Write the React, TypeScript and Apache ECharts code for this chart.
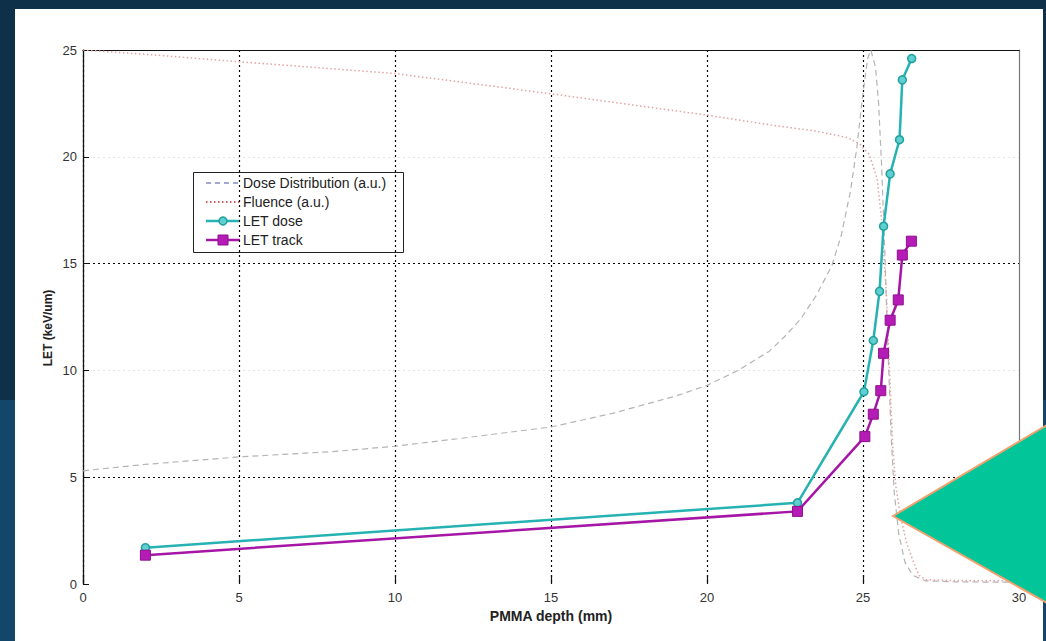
import React, { useEffect, useRef } from "react";
import * as echarts from "echarts";

// Depth axis (mm) and LET axis (keV/um) ranges
const depthTicks = [0, 5, 10, 15, 20, 25, 30];
const letTicks = [0, 5, 10, 15, 20, 25];

// Relative dose distribution, scaled onto the LET axis (a.u.)
const doseDistribution: [number, number][] = [
  [0, 5.3], [2, 5.6], [5, 5.95], [8, 6.2], [10, 6.45], [12, 6.8], [15, 7.35],
  [17, 8.0], [19, 8.8], [20, 9.3], [21, 10.0], [22, 10.9], [22.5, 11.6],
  [23, 12.4], [23.5, 13.5], [24, 14.9], [24.3, 16.3], [24.6, 18.4],
  [24.8, 20.4], [25.0, 23.0], [25.15, 24.6], [25.25, 25.0], [25.4, 24.2],
  [25.5, 22.5], [25.6, 19.5], [25.7, 15.5], [25.8, 11.0], [25.9, 7.0],
  [26.0, 4.3], [26.15, 2.3], [26.35, 1.0], [26.6, 0.4], [27.0, 0.15],
  [28.0, 0.1], [30.0, 0.08],
];

// Relative fluence, scaled onto the LET axis (a.u.)
const fluence: [number, number][] = [
  [0, 25.0], [2, 24.8], [5, 24.45], [10, 23.9], [15, 22.95], [20, 21.95],
  [22, 21.5], [23.5, 21.2], [24.5, 20.9], [24.9, 20.6], [25.2, 20.1],
  [25.45, 19.0], [25.6, 17.0], [25.75, 13.5], [25.85, 10.0], [25.95, 6.5],
  [26.05, 4.6], [26.2, 3.2], [26.4, 1.9], [26.6, 1.1], [26.8, 0.4],
  [27.0, 0.2], [28.0, 0.16], [30.0, 0.15],
];

// Dose-averaged LET
const letDose: [number, number][] = [
  [2, 1.7], [22.9, 3.8], [25.03, 9.0], [25.33, 11.4], [25.53, 13.7],
  [25.66, 16.75], [25.87, 19.2], [26.17, 20.8], [26.26, 23.6], [26.56, 24.6],
];

// Track-averaged LET
const letTrack: [number, number][] = [
  [2, 1.35], [22.9, 3.4], [25.06, 6.9], [25.33, 7.95], [25.57, 9.05],
  [25.66, 10.8], [25.87, 12.35], [26.13, 13.3], [26.26, 15.4], [26.55, 16.05],
];

const seriesNames = ["Dose Distribution (a.u.)", "Fluence (a.u.)", "LET dose", "LET track"];

const FONT = '"Liberation Sans", Arial, sans-serif';

const CYAN = "#26b2b2";
const MAGENTA = "#a616a6";

// Boxed legend in the upper left of the plot, one row per series
function buildLegend() {
  const left = 193;
  const top = 172;
  const rowH = 19;
  const firstRow = 183;
  const x0 = 206;
  const x1 = 240;
  const mid = (x0 + x1) / 2;
  const children: any[] = [
    {
      type: "rect",
      shape: { x: left + 0.5, y: top + 0.5, width: 210, height: 80 },
      style: { fill: "#fff", stroke: "#222", lineWidth: 1 },
    },
  ];
  seriesNames.forEach((name, i) => {
    const y = firstRow + i * rowH;
    if (i === 0) {
      children.push({
        type: "line",
        shape: { x1: x0, y1: y, x2: x1, y2: y },
        style: { stroke: "#4452a6", lineWidth: 1.2, lineDash: [5, 4] },
      });
    } else if (i === 1) {
      children.push({
        type: "line",
        shape: { x1: x0, y1: y, x2: x1, y2: y },
        style: { stroke: "#c42a2a", lineWidth: 1.5, lineDash: [1.5, 2.5] },
      });
    } else if (i === 2) {
      children.push({
        type: "line",
        shape: { x1: x0, y1: y, x2: x1, y2: y },
        style: { stroke: CYAN, lineWidth: 2.5 },
      });
      children.push({
        type: "circle",
        shape: { cx: mid, cy: y, r: 4 },
        style: { fill: "#5fcfcf", stroke: "#1f9f9f", lineWidth: 1.5 },
      });
    } else {
      children.push({
        type: "line",
        shape: { x1: x0, y1: y, x2: x1, y2: y },
        style: { stroke: MAGENTA, lineWidth: 2.5 },
      });
      children.push({
        type: "rect",
        shape: { x: mid - 5, y: y - 5, width: 10, height: 10 },
        style: { fill: "#b51cb5", stroke: "#8f0f8f", lineWidth: 1 },
      });
    }
    children.push({
      type: "text",
      x: 243,
      y,
      style: { text: name, font: `14px ${FONT}`, fill: "#222", verticalAlign: "middle", align: "left" },
    });
  });
  return { type: "group", z: 50, children };
}

export default function App() {
  const ref = useRef<HTMLDivElement>(null);

  useEffect(() => {
    if (!ref.current) return;
    const chart = echarts.init(ref.current, null, { renderer: "svg" });
    const dotted = [2, 3];

    chart.setOption({
      animation: false,
      backgroundColor: "#0e3048",
      graphic: [
        { type: "rect", z: -20, shape: { x: 0, y: 400, width: 1046, height: 241 }, style: { fill: "#124769" } },
        { type: "rect", z: -10, shape: { x: 15, y: 9, width: 1028, height: 632 }, style: { fill: "#ffffff" } },
        {
          type: "text", z: 10, x: 48, y: 328, rotation: Math.PI / 2,
          style: { text: "LET (keV/um)", font: `bold 12px ${FONT}`, align: "center", verticalAlign: "middle", fill: "#222" },
        },
        buildLegend(),
        {
          type: "polygon", z: 100,
          shape: { points: [[893, 516], [1047, 425], [1047, 603]] },
          style: { fill: "#02c59a", stroke: "#f2a16c", lineWidth: 2 },
        },
      ],
      grid: { left: 83, top: 50, right: 27, bottom: 57 },
      xAxis: [
        {
          type: "value",
          min: depthTicks[0],
          max: depthTicks[depthTicks.length - 1],
          interval: 5,
          name: "PMMA depth (mm)",
          nameLocation: "middle",
          nameGap: 17,
          nameTextStyle: { fontFamily: FONT, fontWeight: "bold", fontSize: 14, color: "#222" },
          axisLine: { show: false },
          axisTick: { show: true, inside: true, length: 9, lineStyle: { color: "#111", width: 1.2 } },
          axisLabel: { fontFamily: FONT, fontSize: 13, color: "#333", margin: 7 },
          splitLine: {
            show: true,
            lineStyle: {
              color: ["#000", "#000", "#000", "#000", "#000", "#000", "rgba(0,0,0,0)"],
              type: dotted,
              width: 1.2,
            },
          },
        },
        {
          type: "value",
          position: "top",
          min: 0,
          max: 30,
          interval: 5,
          axisLine: { show: true, onZero: false, lineStyle: { color: "#111", width: 1.2 } },
          axisTick: { show: false },
          axisLabel: { show: false },
          splitLine: { show: false },
        },
      ],
      yAxis: [
        {
          type: "value",
          min: letTicks[0],
          max: letTicks[letTicks.length - 1],
          interval: 5,
          axisLine: { show: true, onZero: false, lineStyle: { color: "#111", width: 1.3 } },
          axisTick: { show: true, inside: true, length: 6, lineStyle: { color: "#111" } },
          axisLabel: { fontFamily: FONT, fontSize: 13, color: "#333", margin: 6 },
          splitLine: {
            show: true,
            lineStyle: {
              color: ["rgba(0,0,0,0)", "#000", "#e4e4e4", "#000", "#e4e4e4", "#000"],
              type: dotted,
              width: 1.2,
            },
          },
        },
        {
          type: "value",
          position: "right",
          min: 0,
          max: 25,
          interval: 5,
          axisLine: { show: true, onZero: false, lineStyle: { color: "#777", width: 1.2 } },
          axisTick: { show: false },
          axisLabel: { show: false },
          splitLine: { show: false },
        },
      ],
      series: [
        {
          name: seriesNames[0],
          type: "line",
          data: doseDistribution,
          symbol: "none",
          lineStyle: { color: "#b4b4b4", type: [6, 4], width: 1.2 },
          itemStyle: { color: "#b4b4b4" },
          z: 2,
        },
        {
          name: seriesNames[1],
          type: "line",
          data: fluence,
          symbol: "none",
          lineStyle: { color: "#e3a3a3", type: [1.5, 2.5], width: 1.5 },
          itemStyle: { color: "#e3a3a3" },
          z: 2,
        },
        {
          name: seriesNames[2],
          type: "line",
          data: letDose,
          symbol: "circle",
          symbolSize: 8,
          lineStyle: { color: CYAN, width: 2.5 },
          itemStyle: { color: "#5fcfcf", borderColor: "#1f9f9f", borderWidth: 1.5 },
          z: 4,
        },
        {
          name: seriesNames[3],
          type: "line",
          data: letTrack,
          symbol: "rect",
          symbolSize: 10,
          lineStyle: { color: MAGENTA, width: 2.5 },
          itemStyle: { color: "#b51cb5", borderColor: "#8f0f8f", borderWidth: 1 },
          z: 5,
        },
      ],
    });

    return () => chart.dispose();
  }, []);

  return (
    <div
      ref={ref}
      style={{ position: "fixed", left: 0, top: 0, width: 1046, height: 641 }}
    />
  );
}
